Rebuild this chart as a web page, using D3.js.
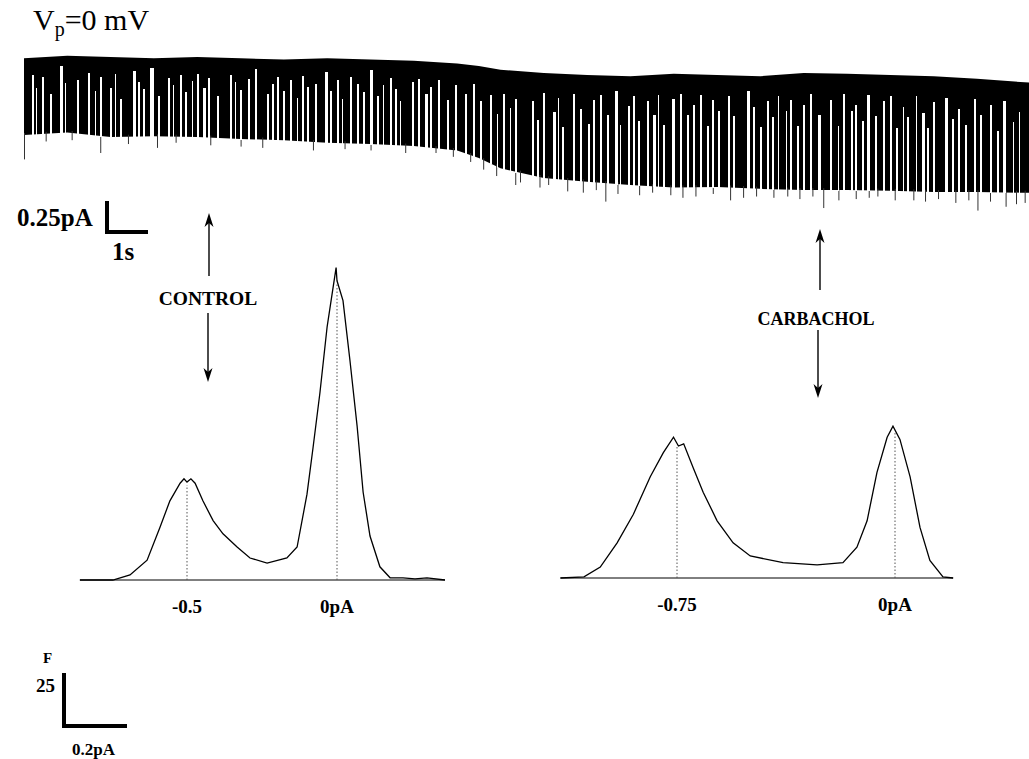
<!DOCTYPE html>
<html>
<head>
<meta charset="utf-8">
<script src="https://cdn.jsdelivr.net/npm/d3@7"></script>
<style>
    body { margin: 0; background: #fff; }
    svg { display: block; }
    text { font-family: "Liberation Serif", "Times New Roman", serif; font-weight: bold; fill: #000; }
</style>
</head>
<body>
<svg id="fig" width="1029" height="759"></svg>
<script>
// ---- Trace data (time in s, current in pA) ----
const traceTime   = [0, 1, 2, 3, 4, 5, 6, 7, 8, 9, 10, 10.5, 11, 12, 13, 14, 15, 16, 17, 18, 19, 20, 21, 22, 23, 23.2];
// upper edge of the record (closed level + noise)
const traceClosed = [-0.01, 0.01, 0, -0.01, 0, -0.01, -0.02, -0.01, -0.02, -0.03, -0.05, -0.07, -0.10, -0.125, -0.14, -0.15, -0.13, -0.14, -0.15, -0.125, -0.13, -0.14, -0.15, -0.17, -0.195, -0.2];
// lower edge of the record (open level + noise)
const traceOpen   = [-0.61, -0.59, -0.625, -0.62, -0.625, -0.64, -0.65, -0.67, -0.68, -0.695, -0.73, -0.79, -0.87, -0.945, -0.975, -1.0, -1.02, -1.015, -1.03, -1.04, -1.04, -1.045, -1.055, -1.055, -1.06, -1.06];

// long closures seen as white stripes: [start (s), dwell (ms), reach (fraction of band from the bottom)]
const closuresControl = [
    [0.18, 40, 0.9], [0.28, 30, 0.7], [0.42, 50, 0.85], [0.60, 40, 0.6], [0.83, 60, 1.0], [0.95, 30, 0.75], [1.22, 50, 0.8], [1.48, 40, 0.9], [1.64, 30, 0.65], [1.76, 50, 0.85],
    [1.99, 40, 0.7], [2.10, 30, 0.9], [2.22, 40, 0.55], [2.52, 60, 0.95], [2.63, 40, 0.8], [2.75, 50, 0.7], [2.91, 90, 1.0], [3.09, 40, 0.6], [3.33, 50, 0.85], [3.44, 30, 0.75],
    [3.60, 40, 0.9], [3.72, 50, 0.65], [3.88, 30, 0.8], [4.00, 40, 0.9], [4.13, 60, 0.7], [4.25, 40, 0.85], [4.46, 50, 0.6], [4.76, 40, 0.9], [4.87, 30, 0.8], [4.99, 50, 0.7],
    [5.17, 40, 0.85], [5.33, 60, 1.0], [5.61, 40, 0.65], [5.73, 30, 0.8], [5.84, 50, 0.9], [5.98, 40, 0.7], [6.14, 50, 0.85], [6.30, 30, 0.6], [6.42, 40, 0.9], [6.54, 50, 0.75],
    [6.72, 40, 0.8], [6.95, 60, 0.95], [7.07, 40, 0.7], [7.23, 50, 0.85], [7.34, 30, 0.6], [7.53, 40, 0.9], [7.69, 50, 0.8], [7.83, 40, 0.7], [7.99, 60, 1.0], [8.15, 40, 0.65],
    [8.29, 30, 0.8], [8.45, 50, 0.9], [8.57, 40, 0.75], [8.68, 30, 0.6], [8.96, 50, 0.85], [9.10, 40, 0.9], [9.26, 60, 0.7], [9.38, 40, 0.8], [9.56, 50, 0.9], [9.77, 40, 0.65],
    [9.95, 50, 0.85], [10.18, 40, 0.75], [10.37, 30, 0.9], [10.53, 50, 0.7], [10.76, 40, 0.8], [10.92, 30, 0.6], [11.06, 40, 0.85], [11.22, 30, 0.7], [11.34, 40, 0.8]
];
const closuresCarbachol = [
    [11.73, 40, 0.8], [11.85, 30, 0.6], [11.99, 40, 0.9], [12.22, 50, 0.7], [12.33, 30, 0.85], [12.42, 40, 0.55], [12.68, 50, 0.9], [12.84, 40, 0.75], [13.03, 30, 0.6], [13.14, 40, 0.85],
    [13.30, 50, 0.9], [13.46, 40, 0.7], [13.65, 60, 0.95], [13.76, 30, 0.6], [13.95, 40, 0.8], [14.06, 50, 0.9], [14.18, 30, 0.65], [14.39, 40, 0.85], [14.53, 50, 0.7], [14.64, 30, 0.9],
    [14.76, 40, 0.6], [14.97, 50, 0.85], [15.15, 40, 0.9], [15.31, 30, 0.7], [15.45, 40, 0.8], [15.61, 50, 0.9], [15.77, 40, 0.6], [15.89, 30, 0.85], [16.03, 40, 0.75], [16.24, 50, 0.9],
    [16.37, 40, 0.7], [16.70, 60, 0.95], [16.84, 40, 0.8], [17.00, 30, 0.6], [17.16, 40, 0.85], [17.27, 50, 0.7], [17.41, 30, 0.9], [17.58, 40, 0.75], [17.69, 50, 0.85], [17.85, 40, 0.6],
    [17.99, 30, 0.8], [18.15, 40, 0.9], [18.34, 50, 0.7], [18.61, 40, 0.85], [18.78, 30, 0.6], [18.91, 40, 0.9], [19.08, 50, 0.75], [19.19, 30, 0.8], [19.35, 40, 0.65], [19.47, 50, 0.9],
    [19.65, 40, 0.7], [19.84, 30, 0.85], [20.00, 40, 0.9], [20.12, 50, 0.6], [20.28, 40, 0.8], [20.39, 30, 0.7], [20.58, 40, 0.9], [20.74, 50, 0.75], [20.85, 30, 0.6], [20.99, 40, 0.85],
    [21.27, 50, 0.9], [21.43, 40, 0.7], [21.57, 30, 0.8], [21.73, 40, 0.65], [21.92, 50, 0.9], [22.08, 40, 0.75], [22.31, 30, 0.85], [22.47, 40, 0.6], [22.61, 50, 0.9], [22.82, 40, 0.7], [22.96, 30, 0.8]
];
// brief excursions below the band: [time (s), current (pA)]
const spikes = [
    [0, -0.80], [0.5, -0.66], [1.1, -0.65], [1.76, -0.75], [2.4, -0.68], [3.07, -0.71], [3.5, -0.67], [4.3, -0.69], [5.0, -0.70],
    [5.5, -0.71], [6.67, -0.73], [7.4, -0.72], [8.0, -0.73], [8.8, -0.75], [9.5, -0.75], [9.9, -0.78], [10.3, -0.82], [10.6, -0.88],
    [10.9, -0.93], [11.34, -1.0], [11.45, -0.98], [11.9, -1.02], [12.1, -1.0], [12.54, -1.05], [12.9, -1.06], [13.2, -1.04],
    [13.42, -1.13], [13.7, -1.07], [14.2, -1.08], [14.5, -1.06], [14.92, -1.08], [15.2, -1.10], [15.5, -1.09], [15.9, -1.07],
    [16.3, -1.12], [16.6, -1.10], [16.9, -1.09], [17.3, -1.10], [17.62, -1.09], [17.9, -1.11], [18.2, -1.09], [18.45, -1.18],
    [18.8, -1.12], [19.2, -1.11], [19.5, -1.10], [19.7, -1.09], [20.1, -1.12], [20.53, -1.12], [20.8, -1.13], [21.1, -1.11],
    [21.5, -1.14], [21.8, -1.12], [22.01, -1.2], [22.3, -1.13], [22.66, -1.17], [22.9, -1.15], [23.1, -1.14]
];

// ---- Amplitude histograms (current in pA, counts) ----
const ctlCurrent = [-0.857, -0.747, -0.69, -0.633, -0.59, -0.557, -0.523, -0.51, -0.5, -0.487, -0.473, -0.447, -0.413, -0.38, -0.333, -0.29, -0.233, -0.167, -0.133, -0.1, -0.08, -0.057, -0.033, -0.013, -0.003, 0, 0.02, 0.043, 0.067, 0.087, 0.11, 0.143, 0.177, 0.22, 0.26, 0.3, 0.36];
const ctlCount   = [0, 0, 2.3, 9, 24, 36, 44, 46, 44.5, 46, 44, 36, 27, 21, 15, 10, 7.7, 10, 15, 39, 60, 85, 115, 133, 142, 136, 127, 100, 70, 40, 20, 6, 1, 1, 0.5, 1, 0];
const cchCurrent = [-1.151, -1.07, -1.014, -0.956, -0.9, -0.842, -0.797, -0.762, -0.745, -0.727, -0.694, -0.66, -0.612, -0.557, -0.498, -0.385, -0.268, -0.179, -0.131, -0.096, -0.062, -0.027, -0.007, 0.017, 0.052, 0.086, 0.12, 0.165, 0.2];
const cchCount   = [0, 0.5, 5, 16, 29, 46, 57, 64, 60, 61, 50, 39, 26, 16, 10, 7, 6, 7, 14, 26, 48, 64, 69, 63, 46, 23, 8, 0.5, 0];

const ctlPeaks = [-0.5, 0];
const cchPeaks = [-0.75, 0];

const svg = d3.select('#fig');

// ---- Trace ----
const xT = d3.scaleLinear().domain([0, 23.2]).range([24, 1029]);
const yT = d3.scaleLinear().domain([0, -1]).range([57, 185]);
const closedAt = d3.scaleLinear().domain(traceTime).range(traceClosed);
const openAt = d3.scaleLinear().domain(traceTime).range(traceOpen);

const band = d3.area()
    .x((d, i) => xT(traceTime[i]))
    .y0((d, i) => yT(traceClosed[i]))
    .y1((d, i) => yT(traceOpen[i]));

svg.append('path')
    .datum(traceTime)
    .attr('d', band)
    .attr('fill', '#000');

svg.append('g').selectAll('line')
    .data(spikes)
    .enter()
    .append('line')
    .attr('x1', d => xT(d[0]) + 0.5)
    .attr('x2', d => xT(d[0]) + 0.5)
    .attr('y1', d => yT(openAt(d[0])) - 2)
    .attr('y2', d => yT(d[1]))
    .attr('stroke', '#333')
    .attr('stroke-width', 1);

// white stripe from the lower edge up toward the closed level
const stripeTop = d => {
    const lo = openAt(d[0]);
    const hi = closedAt(d[0]) - 0.08;
    return lo + (hi - lo) * d[2];
};
svg.append('g')
    .attr('shape-rendering', 'crispEdges')
    .selectAll('rect')
    .data(closuresControl.concat(closuresCarbachol))
    .enter()
    .append('rect')
    .attr('x', d => xT(d[0]))
    .attr('width', d => xT(d[0] + d[1] / 1000) - xT(d[0]))
    .attr('y', d => yT(stripeTop(d)))
    .attr('height', d => yT(openAt(d[0])) - yT(stripeTop(d)) + 1)
    .attr('fill', '#fff');

// Vp label
const vp = svg.append('text')
    .attr('x', 33).attr('y', 30)
    .style('font-weight', 'normal')
    .style('font-size', '30px');
vp.append('tspan').text('V');
vp.append('tspan').attr('dy', 6).style('font-size', '20px').text('p');
vp.append('tspan').attr('dy', -6).text('=0 mV');

// trace scale bar
svg.append('path')
    .attr('d', 'M107,201 V232 H148')
    .attr('fill', 'none').attr('stroke', '#000').attr('stroke-width', 4);
svg.append('text').attr('x', 17).attr('y', 226).style('font-size', '25px').text('0.25pA');
svg.append('text').attr('x', 112).attr('y', 260).style('font-size', '25px').text('1s');

// ---- Histograms ----
function drawHist(current, count, peaks, x0, x1, pA0, pA1, base, lo, hi, labels) {
    const x = d3.scaleLinear().domain([pA0, pA1]).range([x0, x1]);
    const y = d3.scaleLinear().domain([0, 100]).range([base, base - 220]);
    const g = svg.append('g');

    g.append('line')
        .attr('x1', x(lo)).attr('x2', x(hi))
        .attr('y1', base).attr('y2', base)
        .attr('stroke', '#000').attr('stroke-width', 1);

    const line = d3.line()
        .x((d, i) => x(current[i]))
        .y(d => y(d));
    g.append('path')
        .datum(count)
        .attr('d', line)
        .attr('fill', 'none')
        .attr('stroke', '#000')
        .attr('stroke-width', 1.3);

    const countAt = d3.scaleLinear().domain(current).range(count);
    g.selectAll('.peak')
        .data(peaks)
        .enter()
        .append('line')
        .attr('x1', d => x(d)).attr('x2', d => x(d))
        .attr('y1', base).attr('y2', d => y(countAt(d)) + 3)
        .attr('stroke', '#555').attr('stroke-width', 1)
        .attr('stroke-dasharray', '1.5,2');

    g.selectAll('.lab')
        .data(peaks)
        .enter()
        .append('text')
        .attr('x', d => x(d))
        .attr('y', base + 33)
        .attr('text-anchor', 'middle')
        .style('font-size', '19px')
        .text((d, i) => labels[i]);
}

drawHist(ctlCurrent, ctlCount, ctlPeaks, 187, 337, -0.5, 0, 580, -0.857, 0.36, ['-0.5', '0pA']);
drawHist(cchCurrent, cchCount, cchPeaks, 677, 895, -0.75, 0, 578, -1.151, 0.2, ['-0.75', '0pA']);

// ---- Arrows and condition labels ----
function arrow(x, yFrom, yTip) {
    const dir = yTip < yFrom ? 1 : -1;
    svg.append('line')
        .attr('x1', x).attr('x2', x)
        .attr('y1', yFrom).attr('y2', yTip + dir * 8)
        .attr('stroke', '#000').attr('stroke-width', 1.4);
    svg.append('path')
        .attr('d', `M${x},${yTip} L${x - 4.5},${yTip + dir * 14} L${x},${yTip + dir * 10} L${x + 4.5},${yTip + dir * 14} Z`)
        .attr('fill', '#000');
}
arrow(209, 276, 213);
arrow(208, 313, 382);
arrow(820, 290, 229);
arrow(818, 330, 398);

svg.append('text').attr('x', 208).attr('y', 305).attr('text-anchor', 'middle').style('font-size', '19.5px').text('CONTROL');
svg.append('text').attr('x', 816).attr('y', 325).attr('text-anchor', 'middle').style('font-size', '18px').text('CARBACHOL');

// ---- Histogram scale bar ----
svg.append('path')
    .attr('d', 'M64,673 V726 H127')
    .attr('fill', 'none').attr('stroke', '#000').attr('stroke-width', 4);
svg.append('text').attr('x', 43).attr('y', 663).style('font-size', '15px').text('F');
svg.append('text').attr('x', 55).attr('y', 692).attr('text-anchor', 'end').style('font-size', '19px').text('25');
svg.append('text').attr('x', 72).attr('y', 755).style('font-size', '17px').text('0.2pA');
</script>
</body>
</html>
